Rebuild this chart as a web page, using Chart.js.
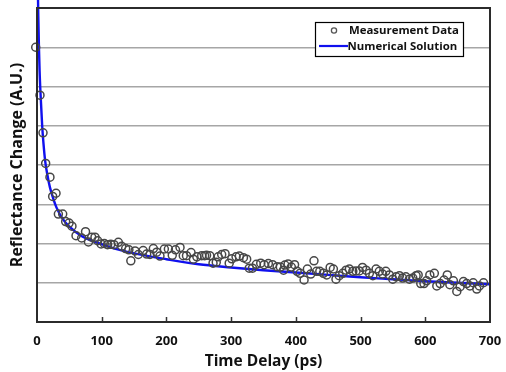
<!DOCTYPE html>
<html>
<head>
<meta charset="utf-8">
<script src="https://cdn.jsdelivr.net/npm/chart.js@4/dist/chart.umd.min.js"></script>
<style>
html,body{margin:0;padding:0;background:#fff;}
#wrap{position:relative;width:506px;height:372px;}
</style>
</head>
<body>
<div id="wrap"><canvas id="c"></canvas></div>
<script>
// Measurement data (time delay in ps, reflectance change in A.U.)
const measTime = [-2,4.6,9.3,13.4,20,24.2,29.4,33,39.7,44.3,49.5,54,60.3,69,75,79.5,84.5,89.6,93.8,99,104,109,114,119,125.7,130.9,137,142,145,151.5,156.6,164,169.5,174.6,179.8,185,190,196.8,203,209,214,221,226,231,238,241.7,247,254.5,259,262,267,272,277,280,285.4,290.6,297,301,307.6,312.7,319,324,328,333,339,345.7,351,357.5,364,371,376,381,383,388,393,398,402,406.5,412.7,417.8,423,428,432,437,442.5,447.7,453,458,462,467,472.5,477.6,482.7,488,493,498,503,508.5,513.6,519,524,529,534,539,544.5,549.8,555,560,565,570,575.5,580.7,585.8,589,593,598,602,607,614,617.8,623,629,634,638,643.4,648.7,653.8,659,664,669,674,679.6,683.6,690];
const measValue = [7.0,5.78,4.82,4.04,3.69,3.20,3.28,2.75,2.75,2.56,2.52,2.44,2.20,2.14,2.30,2.04,2.16,2.16,2.07,1.99,2.00,1.97,1.98,1.97,2.03,1.93,1.87,1.84,1.56,1.81,1.72,1.82,1.73,1.72,1.87,1.78,1.68,1.86,1.86,1.70,1.84,1.90,1.69,1.69,1.77,1.60,1.66,1.69,1.69,1.70,1.69,1.50,1.52,1.66,1.72,1.74,1.50,1.61,1.66,1.68,1.64,1.60,1.37,1.37,1.47,1.50,1.46,1.49,1.46,1.41,1.40,1.32,1.45,1.48,1.40,1.46,1.29,1.24,1.07,1.35,1.22,1.56,1.29,1.29,1.24,1.20,1.39,1.35,1.09,1.18,1.24,1.32,1.35,1.29,1.30,1.30,1.39,1.32,1.24,1.18,1.35,1.29,1.22,1.29,1.20,1.09,1.15,1.18,1.12,1.15,1.09,1.12,1.18,1.20,0.98,0.98,1.05,1.20,1.24,0.92,0.98,1.07,1.20,0.95,1.05,0.78,0.90,1.03,0.98,0.92,1.00,0.84,0.92,1.00];
// Numerical solution curve
const curveTime = [0.8,1.5,2,3,4,5.5,8,10,12.5,16,20,25,30,40,50,70,90,120,150,200,250,300,350,400,450,500,550,600,650,700];
const curveValue = [9.5,8.3,7.8,7.0,6.4,5.8,5.0,4.55,4.12,3.75,3.43,3.15,2.92,2.62,2.43,2.18,2.04,1.87,1.75,1.60,1.47,1.39,1.32,1.26,1.20,1.14,1.09,1.04,1.00,0.96];
// Axis ticks
const xTicks = [0,100,200,300,400,500,600,700];
const yTicks = [0,1,2,3,4,5,6,7,8];
const legendLabels = ['Measurement Data','Numerical Solution'];

const FONT = '"Open Sans", Lato, "DejaVu Sans", sans-serif';

const framePlugin = {
  id: 'frame',
  afterDatasetsDraw(chart) {
    const {ctx, chartArea: a, scales} = chart;
    ctx.save();
    // inside tick marks on x axis
    ctx.strokeStyle = '#333';
    ctx.lineWidth = 1.5;
    xTicks.forEach(v => {
      if (v === 0 || v === 700) return;
      const px = Math.round(scales.x.getPixelForValue(v)) + 0.5;
      ctx.beginPath();
      ctx.moveTo(px, a.bottom);
      ctx.lineTo(px, a.bottom - 5);
      ctx.stroke();
    });
    // frame
    ctx.strokeStyle = '#2b2b2b';
    ctx.lineWidth = 2;
    ctx.strokeRect(a.left, a.top, a.right - a.left, a.bottom - a.top);
    // legend
    const lx = 315, ly = 22, lw = 148, lh = 34;
    ctx.fillStyle = '#fff';
    ctx.fillRect(lx, ly, lw, lh);
    ctx.strokeStyle = '#000';
    ctx.lineWidth = 1.2;
    ctx.strokeRect(lx + 0.5, ly + 0.5, lw, lh);
    ctx.strokeStyle = '#555';
    ctx.lineWidth = 1.3;
    ctx.beginPath();
    ctx.arc(334, 30.5, 2.6, 0, Math.PI * 2);
    ctx.stroke();
    ctx.strokeStyle = '#1010ee';
    ctx.lineWidth = 2.2;
    ctx.beginPath();
    ctx.moveTo(319, 46);
    ctx.lineTo(348, 46);
    ctx.stroke();
    ctx.fillStyle = '#111';
    ctx.font = 'bold 11.4px ' + FONT;
    ctx.textBaseline = 'middle';
    ctx.textAlign = 'left';
    ctx.fillText(legendLabels[0], 349, 31);
    ctx.fillText(legendLabels[1], 347.5, 46.5);
    ctx.restore();
  }
};

new Chart(document.getElementById('c'), {
  type: 'scatter',
  data: {
    datasets: [
      {
        label: legendLabels[1],
        type: 'line',
        data: curveTime.map((t, i) => ({x: t, y: curveValue[i]})),
        borderColor: '#1010ee',
        borderWidth: 2.4,
        pointRadius: 0,
        fill: false,
        cubicInterpolationMode: 'monotone',
        order: 2
      },
      {
        label: legendLabels[0],
        data: measTime.map((t, i) => ({x: t, y: measValue[i]})),
        pointRadius: 4,
        pointStyle: 'circle',
        borderColor: '#474747',
        borderWidth: 1.5,
        backgroundColor: 'rgba(0,0,0,0)',
        order: 1
      }
    ]
  },
  options: {
    responsive: true,
    maintainAspectRatio: false,
    animation: false,
    clip: false,
    layout: {padding: {top: 8, right: 16, left: 0, bottom: 0}},
    plugins: {legend: {display: false}, tooltip: {enabled: false}},
    scales: {
      x: {
        type: 'linear',
        min: 0, max: 700,
        afterBuildTicks: s => { s.ticks = xTicks.map(v => ({value: v})); },
        afterFit: s => { s.height = 50; s.paddingLeft = 0; s.paddingRight = 0; },
        grid: {display: false, drawTicks: false},
        border: {display: false},
        ticks: {
          padding: 11,
          color: '#111',
          font: {family: FONT, size: 13, weight: 'bold'},
          maxRotation: 0
        },
        title: {
          display: true,
          text: 'Time Delay (ps)',
          color: '#111',
          font: {family: FONT, size: 15.5, weight: 'bold'},
          padding: {top: 0, bottom: 1.5}
        }
      },
      y: {
        type: 'linear',
        min: 0, max: 8,
        afterBuildTicks: s => { s.ticks = yTicks.map(v => ({value: v})); },
        afterFit: s => { s.width = 37; s.paddingTop = 0; s.paddingBottom = 0; },
        grid: {color: '#a6a6a6', lineWidth: 1.5, drawTicks: false},
        border: {display: false},
        ticks: {display: false},
        title: {
          display: true,
          text: 'Reflectance Change (A.U.)',
          color: '#111',
          font: {family: FONT, size: 16, weight: 'bold'},
          padding: {top: 7.5, bottom: 0}
        }
      }
    }
  },
  plugins: [framePlugin]
});
</script>
</body>
</html>
